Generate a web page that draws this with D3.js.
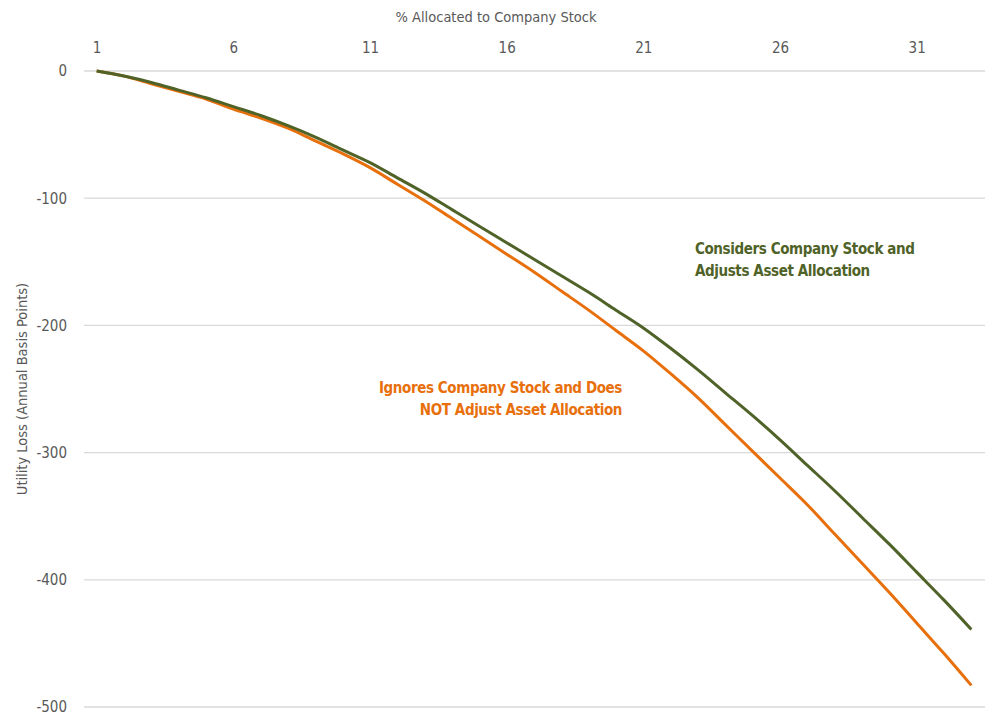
<!DOCTYPE html>
<html>
<head>
<meta charset="utf-8">
<script src="https://cdn.jsdelivr.net/npm/d3@7"></script>
<style>
    body { margin: 0; background: #fff; }
    text { font-family: "Liberation Sans Narrow", "DejaVu Sans Condensed", "Roboto", sans-serif; }
</style>
</head>
<body>
<script>
// % allocated to company stock (1..33)
const categories = d3.range(1, 34);
const xTickLabels = [1, 6, 11, 16, 21, 26, 31];
const yTicks = [0, -100, -200, -300, -400, -500];

// utility loss, annual basis points
const considers = [0, -4, -9, -15, -21, -28, -35, -43, -52, -62, -72, -84, -96, -109, -122, -135,
    -148, -161, -174, -188, -202, -218, -235, -253, -271, -290, -310, -330, -351, -372, -394, -416, -439];
const ignores = [0, -4, -10, -16, -22, -30, -37, -45, -55, -65, -76, -89, -102, -116, -130, -144,
    -158, -173, -188, -204, -220, -238, -257, -278, -299, -320, -341, -364, -387, -410, -434, -458, -483];

const width = 995, height = 715;
const green = "#4f6228", orange = "#e8700c";

let svg = d3.select("body").append("svg")
    .attr("width", width)
    .attr("height", height);

let xScale = d3.scalePoint()
    .domain(categories)
    .range([83, 985])
    .padding(0.5);

let yScale = d3.scaleLinear()
    .domain([-500, 0])
    .range([707, 71]);

// gridlines
svg.append("g")
    .selectAll("line")
    .data(yTicks)
    .join("line")
    .attr("x1", 84)
    .attr("x2", 985)
    .attr("y1", d => yScale(d))
    .attr("y2", d => yScale(d))
    .attr("stroke", "#d9d9d9")
    .attr("stroke-width", 1.3);

// y axis labels (plain hyphen like the original)
let yAxis = svg.append("g")
    .attr("transform", "translate(70,0)")
    .call(d3.axisLeft(yScale).tickValues(yTicks).tickSize(0).tickPadding(3)
        .tickFormat(d => String(d)));
yAxis.select(".domain").remove();
yAxis.selectAll("text")
    .attr("fill", "#595959")
    .style("font-size", "15px");

// x axis on top
let xAxis = svg.append("g")
    .attr("transform", "translate(0,53)")
    .call(d3.axisTop(xScale).tickValues(xTickLabels).tickSize(0).tickPadding(0));
xAxis.select(".domain").remove();
xAxis.selectAll("text")
    .attr("fill", "#595959")
    .style("font-size", "15px");

// axis titles
svg.append("text")
    .attr("x", 496)
    .attr("y", 22)
    .attr("text-anchor", "middle")
    .attr("fill", "#595959")
    .style("font-size", "14.5px")
    .text("% Allocated to Company Stock");

svg.append("text")
    .attr("transform", "translate(27," + ((71 + 707) / 2) + ") rotate(-90)")
    .attr("text-anchor", "middle")
    .attr("fill", "#595959")
    .style("font-size", "14.5px")
    .text("Utility Loss (Annual Basis Points)");

let line = d3.line()
    .x((d, i) => xScale(categories[i]))
    .y(d => yScale(d))
    .curve(d3.curveMonotoneX);

svg.append("path")
    .datum(ignores)
    .attr("fill", "none")
    .attr("stroke", orange)
    .attr("stroke-width", 3)
    .attr("d", line);

svg.append("path")
    .datum(considers)
    .attr("fill", "none")
    .attr("stroke", green)
    .attr("stroke-width", 3)
    .attr("d", line);

// series labels
let gLabel = svg.append("text")
    .attr("fill", green)
    .style("font-size", "15px")
    .style("letter-spacing", "-0.4px")
    .style("font-weight", "bold");
gLabel.append("tspan").attr("x", 695).attr("y", 254).text("Considers Company Stock and");
gLabel.append("tspan").attr("x", 695).attr("y", 276).text("Adjusts Asset Allocation");

let oLabel = svg.append("text")
    .attr("fill", orange)
    .attr("text-anchor", "end")
    .style("font-size", "15px")
    .style("letter-spacing", "-0.4px")
    .style("font-weight", "bold");
oLabel.append("tspan").attr("x", 622).attr("y", 393).text("Ignores Company Stock and Does");
oLabel.append("tspan").attr("x", 622).attr("y", 415).text("NOT Adjust Asset Allocation");
</script>
</body>
</html>
